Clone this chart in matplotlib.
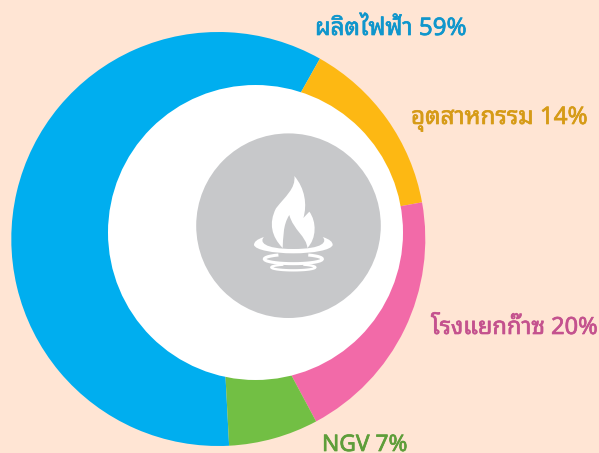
import matplotlib
matplotlib.use('Agg')
import matplotlib.pyplot as plt
import matplotlib.patheffects as pe
from matplotlib.patches import Circle, PathPatch, Arc
from matplotlib.path import Path

W, H = 599, 453

shares = [59, 14, 20, 7]
ring_colors = ['#00aeef', '#fdb813', '#f26aa8', '#72bf44']
labels = ['ผลิตไฟฟ้า 59%', 'อุตสาหกรรม 14%', 'โรงแยกก๊าซ 20%', 'NGV 7%']
label_colors = ['#0f96cc', '#d69b17', '#c4528e', '#5e9e3a']
label_pos = [(315, 35), (411, 124), (431, 334), (322, 451)]
label_sizes = [17.4, 17.4, 17, 16.4]

BG = '#ffe5d4'
GREY = '#c7c8ca'
THAI = ['Noto Sans', 'Noto Sans Thai Looped']


def py(y):
    return H - y


def z(x, y):   # coordinates taken from the 3x zoom of the icon
    return (190 + x / 3, py(130 + y / 3))


fig = plt.figure(figsize=(W / 100, H / 100), dpi=100, facecolor=BG)
ax = fig.add_axes([0, 0, 1, 1])

ax.pie(shares, colors=ring_colors, radius=207, center=(218.3, py(239)),
       startangle=-87, counterclock=False, frame=True)
ax.set_xlim(0, W)
ax.set_ylim(0, H)
ax.set_aspect('equal')
ax.axis('off')

ax.add_patch(Circle((255.5, py(232.5)), 147.5, fc='white', ec='none'))
ax.add_patch(Circle((288.5, py(225.7)), 92.3, fc=GREY, ec='none'))

# flame
flame = [
    (Path.MOVETO, (313, 138)),
    (Path.CURVE4, (345, 175)), (Path.CURVE4, (352, 225)), (Path.CURVE4, (340, 264)),
    (Path.LINETO, (358, 245)),
    (Path.CURVE4, (380, 275)), (Path.CURVE4, (380, 325)), (Path.CURVE4, (352, 354)),
    (Path.CURVE4, (350, 320)), (Path.CURVE4, (310, 300)), (Path.CURVE4, (298, 255)),
    (Path.CURVE4, (278, 285)), (Path.CURVE4, (280, 325)), (Path.CURVE4, (278, 354)),
    (Path.CURVE4, (245, 320)), (Path.CURVE4, (235, 280)), (Path.CURVE4, (258, 235)),
    (Path.CURVE4, (285, 200)), (Path.CURVE4, (318, 175)), (Path.CURVE4, (313, 138)),
    (Path.CLOSEPOLY, (313, 138)),
]
codes = [c for c, p in flame]
verts = [z(*p) for c, p in flame]
ax.add_patch(PathPatch(Path(verts, codes), fc='white', ec='none'))

# bowl
bowl = [
    (Path.MOVETO, (222, 321)),
    (Path.CURVE4, (200, 328)), (Path.CURVE4, (192, 336)), (Path.CURVE4, (192, 345)),
    (Path.CURVE4, (196, 360)), (Path.CURVE4, (250, 370)), (Path.CURVE4, (310, 370)),
    (Path.CURVE4, (370, 370)), (Path.CURVE4, (424, 360)), (Path.CURVE4, (428, 345)),
    (Path.CURVE4, (428, 336)), (Path.CURVE4, (420, 328)), (Path.CURVE4, (398, 321)),
    (Path.CURVE4, (412, 335)), (Path.CURVE4, (400, 357)), (Path.CURVE4, (310, 357)),
    (Path.CURVE4, (220, 357)), (Path.CURVE4, (208, 335)), (Path.CURVE4, (222, 321)),
    (Path.CLOSEPOLY, (222, 321)),
]
ax.add_patch(PathPatch(Path([z(*p) for c, p in bowl], [c for c, p in bowl]),
                       fc='white', ec='none'))

for cy, rx, ry, lw in [(387, 87, 14, 2.2), (412, 66, 9, 1.7)]:
    ax.add_patch(Arc(z(310, cy), 2 * rx / 3, 2 * ry / 3, theta1=165, theta2=375,
                     color='white', lw=lw))

for text, color, (x, y), size in zip(labels, label_colors, label_pos, label_sizes):
    t = ax.text(x, py(y), text, color=color, fontsize=size, weight='bold',
                family=THAI, ha='left', va='baseline')
    t.set_path_effects([pe.withStroke(linewidth=0.5, foreground=color)])

fig.savefig('out.png', dpi=100, facecolor=BG)
